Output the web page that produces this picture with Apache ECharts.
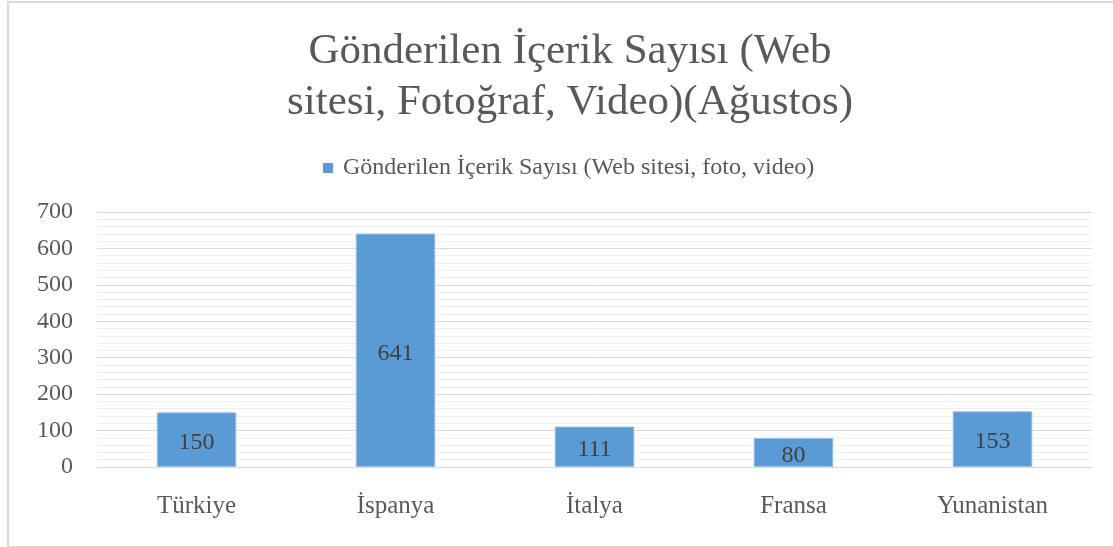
<!DOCTYPE html>
<html>
<head>
<meta charset="utf-8">
<script src="https://cdn.jsdelivr.net/npm/echarts@6/dist/echarts.min.js"></script>
<style>
  html, body { margin: 0; padding: 0; background: #fff; }
  #chart { width: 1113px; height: 547px; }
  .frame { position: absolute; left: 7px; top: 1px; width: 1110px; height: 543px; border: 2px solid #d9d9d9; pointer-events: none; }
</style>
</head>
<body>
<div id="chart"></div>
<div class="frame"></div>
<script>
// chart data
var countries = ['Türkiye', 'İspanya', 'İtalya', 'Fransa', 'Yunanistan'];
var contentCounts = [150, 641, 111, 80, 153];
var seriesName = 'Gönderilen İçerik Sayısı (Web sitesi, foto, video)';
var titleText = 'Gönderilen İçerik Sayısı (Web\nsitesi, Fotoğraf, Video)(Ağustos)';

var serif = '"Liberation Serif", "DejaVu Serif", serif';
var chart = echarts.init(document.getElementById('chart'));

chart.setOption({
    animation: false,
    title: {
        text: titleText,
        left: 565,
        textAlign: 'center',
        top: 21,
        textStyle: {
            fontFamily: serif,
            fontSize: 43,
            fontWeight: 'normal',
            color: '#595959',
            lineHeight: 51
        }
    },
    legend: {
        data: [seriesName],
        top: 151,
        left: 318,
        itemWidth: 10,
        itemHeight: 10,
        icon: 'rect',
        itemStyle: { borderWidth: 0 },
        textStyle: { fontFamily: serif, fontSize: 24, color: '#595959', padding: [0, 0, 0, 5] }
    },
    grid: { left: 97, right: 21, top: 212, bottom: 80 },
    xAxis: {
        type: 'category',
        data: countries,
        axisLine: { lineStyle: { color: '#d9d9d9', width: 1 } },
        axisTick: { show: false },
        axisLabel: { fontFamily: serif, fontSize: 25, color: '#595959', margin: 27 }
    },
    yAxis: {
        type: 'value',
        min: 0,
        max: 700,
        interval: 100,
        axisLine: { show: false },
        axisTick: { show: false },
        axisLabel: { fontFamily: serif, fontSize: 24, color: '#595959', margin: 24 },
        splitLine: { lineStyle: { color: '#d9d9d9', width: 1 } },
        minorTick: { show: false, splitNumber: 5 },
        minorSplitLine: { show: true, lineStyle: { color: '#efefef', width: 1 } }
    },
    series: [{
        name: seriesName,
        type: 'bar',
        data: contentCounts,
        barWidth: '40%',
        itemStyle: { color: '#5b9bd5', borderColor: '#9cc3e6', borderWidth: 1 },
        label: {
            show: true,
            position: 'inside',
            offset: [0, 3],
            fontFamily: serif,
            fontSize: 24,
            color: '#404040'
        }
    }]
});
</script>
</body>
</html>
